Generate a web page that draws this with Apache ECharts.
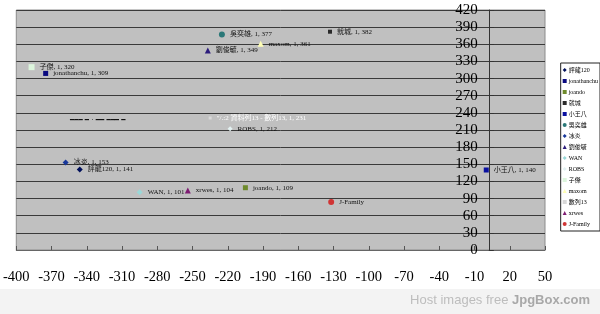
<!DOCTYPE html>
<html>
<head>
<meta charset="utf-8">
<script src="https://cdn.jsdelivr.net/npm/echarts@6/dist/echarts.min.js"></script>
<style>
html,body{margin:0;padding:0;background:#fff;}
#c{width:600px;height:314px;}
</style>
</head>
<body>
<div id="c"></div>
<script>
var seriesNames = ['評龍120','jonathanchu','joando','就城','小王八','吳奕雄','冰炎','劉俊毓','WAN','ROBS','子傑','maxom','數列13','xrwes','J-Family'];
var xValues = [-346,-375,-205,-133,0,-225,-358,-237,-295,-218,-387,-192,-235,-254,-132];
var yValues = [141,309,109,382,140,377,153,349,101,212,320,361,231,104,84];
var pointLabels = ['評龍120, 1, 141','jonathanchu, 1, 309','joando, 1, 109','就城, 1, 382','小王八, 1, 140','吳奕雄, 1, 377','冰炎, 1, 153','劉俊毓, 1, 349','WAN, 1, 101','ROBS, 1, 212','子傑, 1, 320','maxom, 1, 361','"/.:2 資料列13 - 數列13, 1, 231','xrwes, 1, 104','J-Family'];
var xTicks = {min:-400, max:50, interval:30};
var yTicks = {min:0, max:420, interval:30};

var symbols = ['diamond','rect','rect','rect','rect','circle','diamond','triangle','diamond','diamond','rect','triangle','rect','triangle','circle'];
var colors = ['#00105a','#0a0a80','#6e8a2c','#2a2a2a','#0a10a0','#2b7878','#18389a','#2c1c7c','#9ad8d8','#e4f2f2','#dcf5dc','#ffffb4','#d8d8d8','#7e1c72','#d03434'];
var sizes = [6,5,5,4,5,6,6,6,6,5,6,6,3,6,6];
var labelColors = seriesNames.map(function(n){ return n==='數列13' ? '#ffffff' : '#111111'; });

var serif = '"Liberation Serif","Times New Roman","Noto Sans CJK TC",serif';
var gridLeft = 16;

var series = seriesNames.map(function(name,i){
  return {
    name: name,
    type: 'scatter',
    symbol: symbols[i],
    symbolSize: sizes[i],
    itemStyle: {color: colors[i], opacity: 1},
    data: [[xValues[i], yValues[i]]],
    label: {
      show: true,
      position: 'right',
      distance: 5,
      formatter: function(){ return pointLabels[i]; },
      color: labelColors[i],
      fontSize: 7,
      fontFamily: serif
    },
    emphasis: {disabled: true}
  };
});

var chart = echarts.init(document.getElementById('c'), null, {renderer:'canvas'});
var option = {
  animation: false,
  backgroundColor: '#ffffff',
  grid: {left:gridLeft, right:55, top:10, bottom:64, show:true, backgroundColor:'#c0c0c0', borderColor:'#8c8c8c', borderWidth:1, containLabel:false},
  xAxis: {
    type: 'value', min: xTicks.min, max: xTicks.max, interval: xTicks.interval,
    axisLine: {show:true, onZero:true, lineStyle:{color:'#666', width:1}},
    axisTick: {show:true, inside:true, length:4, lineStyle:{color:'#555'}},
    splitLine: {show:false},
    axisLabel: {show:true, margin:20, color:'#000', fontSize:14.5, fontFamily:serif, showMinLabel:true, showMaxLabel:true}
  },
  yAxis: {
    type: 'value', min: yTicks.min, max: yTicks.max, interval: yTicks.interval,
    position: 'left', offset: 0,
    axisLine: {show:true, onZero:false, lineStyle:{color:'#333', width:1}},
    axisTick: {show:true, inside:true, length:5, lineStyle:{color:'#333'}},
    splitLine: {show:true, lineStyle:{color:'#3a3a3a', width:1}},
    axisLabel: {show:true, margin:11, color:'#000', fontSize:15, fontFamily:serif, showMinLabel:true, showMaxLabel:true}
  },
  legend: {
    orient: 'vertical', right: 0, top: 63,
    data: seriesNames,
    itemWidth: 4, itemHeight: 4, itemGap: 3,
    padding: [3,2,3,2],
    backgroundColor: '#ffffff', borderColor: '#222', borderWidth: 1,
    textStyle: {fontSize: 6, color:'#000', fontFamily: serif, lineHeight: 8, padding:[0,0,0,-3]},
    selectedMode: false
  },
  graphic: [
    {type:'rect', left:0, top:289, shape:{width:600, height:25}, style:{fill:'#f3f3f3'}, silent:true},
    {type:'text', right:10, top:294, style:{
      text:'{a|Host images free }{b|JpgBox.com}',
      rich:{a:{fontSize:13, fill:'#bdbdbd', fontFamily:'"Liberation Sans",Arial,sans-serif'},
            b:{fontSize:13, fill:'#a8a8a8', fontWeight:'bold', fontFamily:'"Liberation Sans",Arial,sans-serif'}}
    }, silent:true},
    {type:'text', left:70, top:117, style:{text:'━━━ ━ · ━━ ━━━ ━', fontSize:7, fill:'#111', fontFamily:'"DejaVu Sans",sans-serif'}, silent:true}
  ],
  series: series
};
chart.setOption(option);
// move the y axis (line, ticks, labels) to x = 0 using the x scale
var zeroPx = chart.convertToPixel({xAxisIndex:0}, 0);
chart.setOption({yAxis: {offset: -(zeroPx - gridLeft)}});
</script>
</body>
</html>
